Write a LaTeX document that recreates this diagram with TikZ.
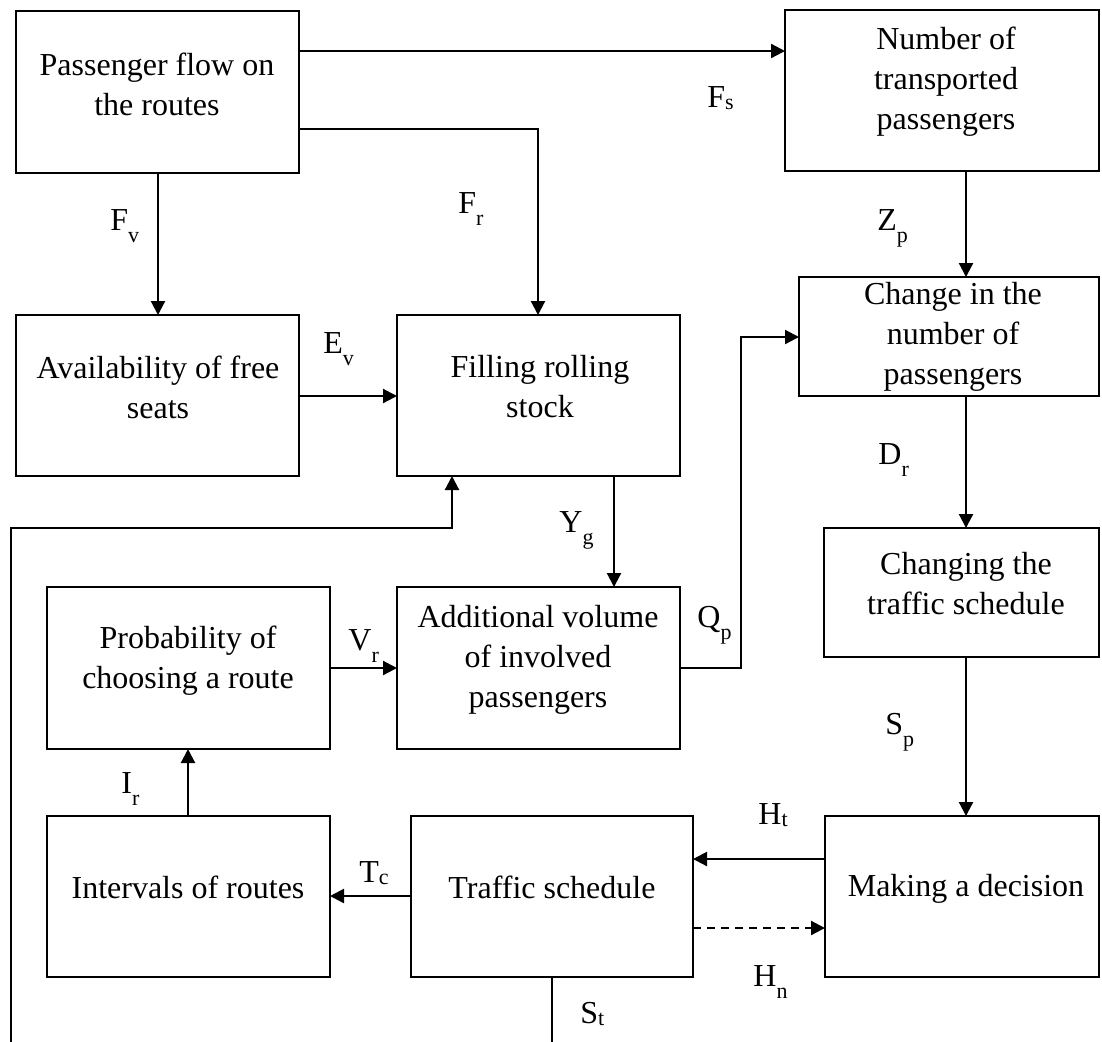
\documentclass[tikz,border=0pt]{standalone}
\usepackage{fontspec}
\setmainfont{Liberation Serif}
\usetikzlibrary{arrows.meta,fit}
\newcommand\dsub[2]{#1\raisebox{-6pt}{\fontsize{11}{11}\selectfont #2}}
\newcommand\ssub[2]{#1\raisebox{-1pt}{\fontsize{11}{11}\selectfont #2}}
\begin{document}
\begin{tikzpicture}[x=0.5pt,y=-0.5pt,
  blk/.style={draw,line width=1.15pt,inner sep=0pt,outer sep=0pt,rectangle},
  txt/.style={align=center,font=\fontsize{16}{20}\selectfont,inner sep=0pt},
  lbl/.style={anchor=base west,inner sep=0pt,font=\fontsize{16}{20}\selectfont},
  con/.style={line width=1.1pt,-{Triangle[length=7pt,width=7pt]}},
  ln/.style={line width=1.1pt}]
\useasboundingbox (0,0) rectangle (1102,1041);
% boxes
\node[blk,fit={(16,11) (299,173)}] (b1) {};
\node[blk,fit={(785,10) (1099,171)}] (b2) {};
\node[blk,fit={(16,315) (299,476)}] (b3) {};
\node[blk,fit={(397,315) (680,476)}] (b4) {};
\node[blk,fit={(799,277) (1099,396)}] (b5) {};
\node[blk,fit={(824,528) (1099,657)}] (b6) {};
\node[blk,fit={(47,587) (330,749)}] (b7) {};
\node[blk,fit={(397,587) (680,749)}] (b8) {};
\node[blk,fit={(47,816) (330,977)}] (b9) {};
\node[blk,fit={(411,816) (693,977)}] (b10) {};
\node[blk,fit={(825,816) (1099,977)}] (b11) {};
% texts
\node[txt] (t1) at (157,84) {Passenger flow on\\the routes};
\node[txt] (t2) at (946,82) {Number of\\transported\\passengers};
\node[txt] (t3) at (158,387) {Availability of free\\seats};
\node[txt] (t4) at (540,387) {Filling rolling\\stock};
\node[txt] (t5) at (953,337) {Change in the\\number of\\passengers};
\node[txt] (t6) at (966,584) {Changing the\\traffic schedule};
\node[txt] (t7) at (188,661) {Probability of\\choosing a route};
\node[txt] (t8) at (538,660) {Additional volume\\of involved\\passengers};
\node[txt] (t9) at (188,887) {Intervals of routes};
\node[txt] (t10) at (552,887) {Traffic schedule};
\node[txt] (t11) at (966,889) {Making a decision};
% connectors
\draw[con] (b1.east |- 0,51) -- (b2.west |- 0,51);
\draw[con] (b1.east |- 0,129) -| (b4.north -| 538,0);
\draw[con] (b1.south -| 158,0) -- (b3.north -| 158,0);
\draw[con] (b3.east |- 0,396) -- (b4.west |- 0,396);
\draw[con] (b2.south -| 966,0) -- (b5.north -| 966,0);
\draw[con] (b5.south -| 966,0) -- (b6.north -| 966,0);
\draw[con] (b6.south -| 966,0) -- (b11.north -| 966,0);
\draw[con] (b11.west |- 0,859) -- (b10.east |- 0,859);
\draw[con,dash pattern=on 4pt off 3pt] (b10.east |- 0,928) -- (b11.west |- 0,928);
\draw[con] (b10.west |- 0,896) -- (b9.east |- 0,896);
\draw[con] (b9.north -| 188,0) -- (b7.south -| 188,0);
\draw[con] (b7.east |- 0,668) -- (b8.west |- 0,668);
\draw[con] (b4.south -| 614,0) -- (b8.north -| 614,0);
\coordinate (qp) at (741,337);
\draw[con] (b8.east |- 0,668) -| (qp) -- (b5.west |- qp);
\coordinate (stend) at (552,1045);
\draw[ln] (b10.south -| stend) -- (stend);
\coordinate (fbs) at (11,1045);
\coordinate (fbc) at (452,528);
\draw[con] (fbs) |- (fbc) -- (b4.south -| fbc);
% labels
\node[lbl] (lfs) at (707,107) {\ssub{F}{s}};
\node[lbl] (lfv) at (110,230) {\dsub{F}{v}};
\node[lbl] (lfr) at (458,213) {\dsub{F}{r}};
\node[lbl] (lev) at (323,353) {\dsub{E}{v}};
\node[lbl] (lzp) at (877,230) {\dsub{Z}{p}};
\node[lbl] (ldr) at (878,464) {\dsub{D}{r}};
\node[lbl] (lsp) at (885,734) {\dsub{S}{p}};
\node[lbl] (lqp) at (697,627) {\dsub{Q}{p}};
\node[lbl] (lyg) at (559,532) {\dsub{Y}{g}};
\node[lbl] (lvr) at (348,650) {\dsub{V}{r}};
\node[lbl] (lir) at (121,793) {\dsub{I}{r}};
\node[lbl] (ltc) at (359,882) {\ssub{T}{c}};
\node[lbl] (lht) at (758,824) {\ssub{H}{t}};
\node[lbl] (lhn) at (753,986) {\dsub{H}{n}};
\node[lbl] (lst) at (580,1023) {\ssub{S}{t}};
\end{tikzpicture}
\end{document}
